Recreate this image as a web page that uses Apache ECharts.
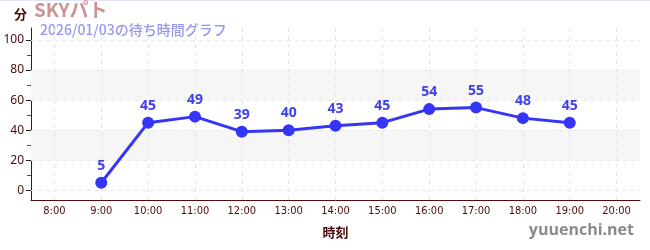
<!DOCTYPE html>
<html><head><meta charset="utf-8">
<script src="https://cdn.jsdelivr.net/npm/echarts@6/dist/echarts.min.js"></script>
<style>html,body{margin:0;padding:0;background:#fff}#c{width:650px;height:250px}</style>
</head><body><div id="c"></div>
<script>
const categories = ['8:00','9:00','10:00','11:00','12:00','13:00','14:00','15:00','16:00','17:00','18:00','19:00','20:00'];
const waitTimes = [null,5,45,49,39,40,43,45,54,55,48,45,null];
const yTicks = [0,20,40,60,80,100];
const yMinorTicks = [10,30,50,70,90];
const bands = [[20,40],[60,80]];
const titleText = 'SKYパト';
const subtitleText = '2026/01/03の待ち時間グラフ';

const chart = echarts.init(document.getElementById('c'), null, {renderer:'canvas'});
const yMin = -6.5, yMax = 108;
const maroon = '#4a0a0a';
const baseY = {type:'value', min:yMin, max:yMax, splitLine:{show:false}, splitArea:{show:false}};
chart.setOption({
  animation:false,
  grid:{left:31, right:10, top:28, bottom:50, containLabel:false},
  graphic:[
    {type:'rect', left:0, top:0, shape:{width:650, height:1}, style:{fill:'#e4e4f8'}},
    {type:'text', left:14, top:8, style:{text:'分', fill:maroon, font:'bold 13px "Noto Sans CJK JP"'}},
    {type:'text', left:34, top:0, style:{text:titleText, fill:'#c99494', font:'bold 19px "Noto Sans CJK JP"'}},
    {type:'text', left:40, top:23, style:{text:subtitleText, fill:'#9797ef', font:'500 14px "Noto Sans CJK JP"'}},
    {type:'text', right:16, top:222, style:{text:'yuuenchi.net', fill:'#8a8a8a', font:'bold 16px "Open Sans"'}}
  ],
  xAxis:{type:'category', data:categories, boundaryGap:true,
    name:'時刻', nameLocation:'middle', nameGap:26,
    nameTextStyle:{color:maroon, fontWeight:'bold', fontSize:13, fontFamily:'Noto Sans CJK JP'},
    axisLine:{onZero:false, lineStyle:{color:'#5a0a0a', width:1}},
    axisTick:{alignWithLabel:true, length:4, lineStyle:{color:'#888'}},
    axisLabel:{color:maroon, fontSize:11, margin:6, fontFamily:'DejaVu Sans Condensed'},
    splitLine:{show:false}},
  yAxis:[
    Object.assign({}, baseY, {
      axisLine:{show:true, onZero:false, lineStyle:{color:'#5a0a0a', width:1}},
      axisTick:{show:true, length:5, customValues:yTicks, lineStyle:{color:'#222'}},
      axisLabel:{show:true, customValues:yTicks, color:maroon, fontSize:12, margin:7, fontFamily:'Noto Sans'}}),
    Object.assign({}, baseY, {position:'left',
      axisLine:{show:false},
      axisTick:{show:true, length:4, customValues:yMinorTicks, lineStyle:{color:'#e01010'}},
      axisLabel:{show:false}}),
    Object.assign({}, baseY, {position:'left',
      axisLine:{show:false},
      axisTick:{show:true, inside:true, length:3, customValues:yTicks, lineStyle:{color:'#222'}},
      axisLabel:{show:false}})
  ],
  series:[
    {type:'line', data:[], z:1, silent:true,
      markArea:{silent:true, z:1, itemStyle:{color:'#f6f6f6'},
        data:bands.map(b=>[{yAxis:b[0]},{yAxis:b[1]}])},
      markLine:{silent:true, z:1, symbol:'none', label:{show:false},
        lineStyle:{color:'#e6e6e6', type:[4,4], width:1},
        data:yTicks.map(v=>({yAxis:v})).concat(categories.map(c=>({xAxis:c})))}},
    {type:'line', data:waitTimes, z:10, connectNulls:false,
      symbol:'circle', symbolSize:12,
      lineStyle:{color:'#3535f5', width:3},
      itemStyle:{color:'#3535f5'},
      label:{show:true, position:'top', distance:4, color:'#4040e8', fontWeight:'bold', fontSize:14, fontFamily:'Noto Sans'}}
  ]
});
</script></body></html>
